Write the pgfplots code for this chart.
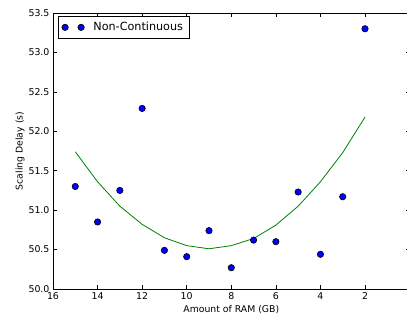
\documentclass[border=0pt]{standalone}
\usepackage{fontspec}
\setmainfont{DejaVu Sans}
\usepackage{pgfplots}
\pgfplotsset{compat=1.18}
\begin{document}
\begin{tikzpicture}[x=1pt,y=1pt]
\begin{axis}[
  scale only axis,
  width=356.6pt, height=276pt,
  x dir=reverse,
  xmin=0, xmax=16,
  ymin=50, ymax=53.5,
  xtick={2,4,...,16},
  ytick={50,50.5,...,53.5},
  /pgf/number format/assume math mode=true,
  yticklabel style={/pgf/number format/.cd, fixed, fixed zerofill, precision=1},
  ticklabel style={font=\fontsize{9.4}{10}\selectfont},
  label style={font=\fontsize{9.3}{10}\selectfont},
  xlabel={Amount of RAM (GB)},
  ylabel={Scaling Delay (s)},
  xlabel style={yshift=1pt},
  ylabel style={yshift=-3pt},
  tick align=inside,
  major tick length=4pt,
  tick style={black, line width=0.6pt},
  axis line style={line width=0.8pt},
  legend style={font=\fontsize{11.2}{12}\selectfont, draw=black, line width=0.6pt, at={(0.014,0.989)}, anchor=north west, inner sep=3pt, nodes={inner sep=3pt}},
  legend cell align=left,
  legend image code/.code={\draw[#1] plot[only marks] coordinates {(0pt,0pt) (16pt,0pt)};\path (-3.5pt,0pt) (25pt,0pt);},
]
\addplot[only marks, mark=*, mark size=3.2pt, mark options={fill={rgb,1:red,0;green,0;blue,1}, draw=black, line width=0.6pt}] coordinates {
(15,51.30) (14,50.85) (13,51.25) (12,52.29) (11,50.49) (10,50.41) (9,50.74)
(8,50.27) (7,50.62) (6,50.60) (5,51.23) (4,50.44) (3,51.17) (2,53.30)
};
\addlegendentry{Non-Continuous}
\addplot[forget plot, color={rgb,1:red,0;green,0.5;blue,0}, line width=0.8pt] coordinates {
(15,51.74) (14,51.36) (13,51.05) (12,50.82) (11,50.65) (10,50.55) (9,50.51)
(8,50.55) (7,50.64) (6,50.81) (5,51.05) (4,51.36) (3,51.73) (2,52.18)
};
\end{axis}
\pgfresetboundingbox
\path[use as bounding box] (-53pt,-27pt) rectangle (354pt,289pt);
\end{tikzpicture}
\end{document}
